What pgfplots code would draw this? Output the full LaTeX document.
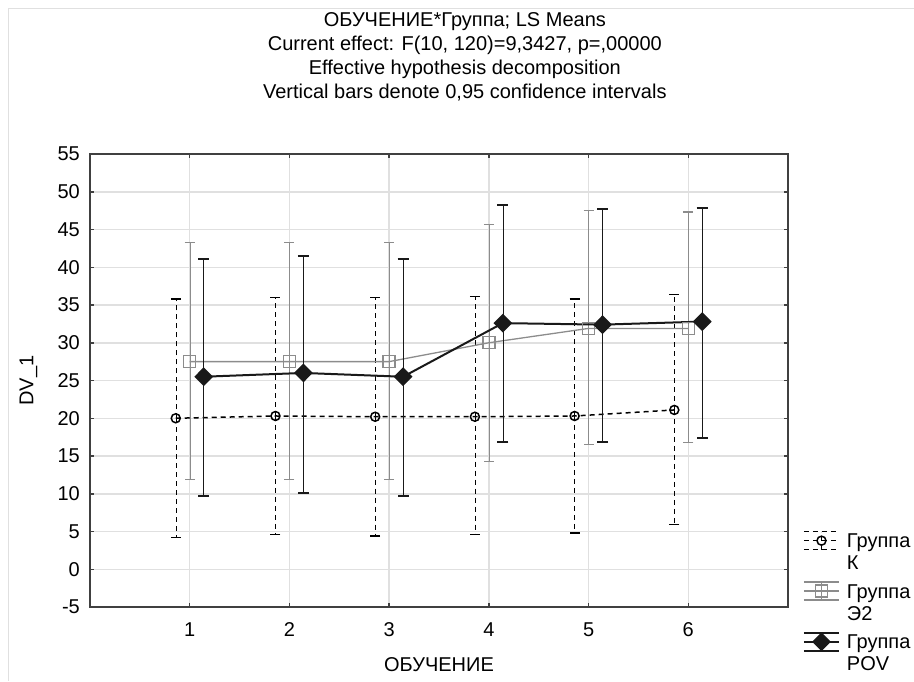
\documentclass[border=0pt]{standalone}
\usepackage{pgfplots}
\pgfplotsset{compat=1.18}
\usepackage{pgfplotstable}
\usepackage{fontspec}
\setmainfont{Liberation Sans}

% means with upper/lower limits of the 0.95 intervals
% group K drawn left of the tick, E2 on it, POV right of it
\pgfplotstableread{
x    y    hi   lo
0.86 20.0 35.8 4.2
1.86 20.3 36.0 4.6
2.86 20.2 36.0 4.4
3.86 20.2 36.1 4.6
4.86 20.3 35.8 4.8
5.86 21.1 36.4 5.9
}\grK
\pgfplotstableread{
x y    hi   lo
1 27.5 43.3 11.9
2 27.5 43.3 11.9
3 27.5 43.3 11.9
4 30.0 45.7 14.3
5 31.9 47.5 16.5
6 31.9 47.3 16.8
}\grE
\pgfplotstableread{
x    y    hi   lo
1.14 25.5 41.1 9.7
2.14 26.0 41.5 10.1
3.14 25.5 41.1 9.7
4.14 32.6 48.2 16.8
5.14 32.4 47.7 16.8
6.14 32.8 47.9 17.4
}\grP

\pgfplotsset{
  legimg/.style={legend image code/.code={
    \draw[mark=none] (0pt,-2pt) -- (35pt,-2pt);
    \draw[mark=none] (0pt,16pt) -- (35pt,16pt);
    \draw[mark=none] (17.5pt,-2pt) -- (17.5pt,16pt);
    \draw[mark repeat=2, mark phase=2] plot coordinates {(0pt,7pt) (17.5pt,7pt) (35pt,7pt)};
  }},
}

\begin{document}
\begin{tikzpicture}[font=\fontsize{20}{24}\selectfont]
\useasboundingbox (-90pt,-74pt) rectangle (824pt,607pt);
\draw[black!12, line width=1pt] (-81pt,-74pt) -- (-81pt,598pt) -- (824pt,598pt);
\begin{axis}[
  scale only axis, width=698pt, height=453pt,
  at={(0pt,0pt)}, anchor=south west,
  xmin=0, xmax=7, ymin=-5, ymax=55,
  xtick={1,2,3,4,5,6}, xticklabels={1,2,3,4,5,6},
  ytick={-5,0,5,10,15,20,25,30,35,40,45,50,55},
  yticklabels={-5,0,5,10,15,20,25,30,35,40,45,50,55},
  tick align=inside, major tick length=4pt,
  tick style={line width=1.5pt, black!75},
  axis line style={line width=2pt, black!75},
  grid=major, major grid style={line width=1.5pt, black!12},
  xticklabel style={inner sep=0pt, anchor=base, yshift=-29pt},
  yticklabel style={inner sep=0pt, xshift=-10pt},
  title={ОБУЧЕНИЕ*Группа; LS Means\\Current effect: F(10, 120)=9,3427, p=,00000\\Effective hypothesis decomposition\\Vertical bars denote 0,95 confidence intervals},
  title style={align=center, inner sep=0pt, anchor=south, at={(axis description cs:0.537,1)}, yshift=47pt},
  xlabel={ОБУЧЕНИЕ},
  xlabel style={inner sep=0pt, anchor=north, at={(axis description cs:0.5,0)}, yshift=-50pt},
  ylabel={DV\_1},
  ylabel style={inner sep=0pt, anchor=south, at={(axis description cs:-0.075,0.5)}},
  legend style={draw=none, fill=none, inner sep=0pt, outer sep=0pt,
    at={(axis description cs:1,0.168)}, anchor=north west, xshift=15pt,
    row sep=31pt, column sep=7pt, cells={anchor=base west},
    nodes={inner sep=0pt}, font=\fontsize{20}{22}\selectfont},
]
\addplot[black, line width=1.5pt, dash pattern=on 5pt off 4pt,
  mark=o, mark size=4.5pt, mark options={solid, fill=white, line width=1.5pt}, legimg,
  error bars/.cd, y dir=both, y explicit, error mark=-,
  error mark options={solid, rotate=90, mark size=5pt, line width=1.5pt}]
  table[y error plus expr=\thisrow{hi}-\thisrow{y}, y error minus expr=\thisrow{y}-\thisrow{lo}] {\grK};
\addlegendentry{\begin{tabular}[t]{@{}l@{}}Группа\\К\end{tabular}}
\addplot[black!45, line width=1.3pt,
  mark=square, mark size=6pt, mark options={solid, line width=1.3pt}, legimg,
  error bars/.cd, y dir=both, y explicit, error mark=-,
  error mark options={solid, rotate=90, mark size=5pt, line width=1.3pt}]
  table[y error plus expr=\thisrow{hi}-\thisrow{y}, y error minus expr=\thisrow{y}-\thisrow{lo}] {\grE};
\addlegendentry{\begin{tabular}[t]{@{}l@{}}Группа\\Э2\end{tabular}}
\addplot[black!90, line width=2pt,
  mark=diamond*, mark size=8pt, mark options={solid, xscale=1.33}, legimg,
  error bars/.cd, y dir=both, y explicit, error mark=-,
  error mark options={solid, rotate=90, mark size=5.5pt, line width=2pt}]
  table[y error plus expr=\thisrow{hi}-\thisrow{y}, y error minus expr=\thisrow{y}-\thisrow{lo}] {\grP};
\addlegendentry{\begin{tabular}[t]{@{}l@{}}Группа\\POV\end{tabular}}
\end{axis}
\end{tikzpicture}
\end{document}
